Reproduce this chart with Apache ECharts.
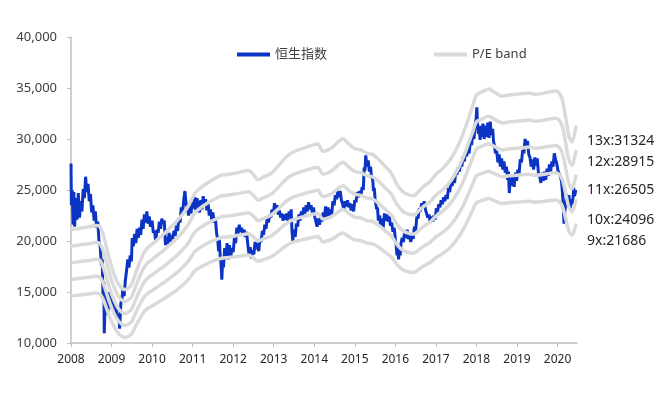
<!DOCTYPE html>
<html lang="zh">

<head>
    <meta charset="UTF-8">
    <title>恒生指数 P/E band</title>
    <style>
        html, body { margin: 0; padding: 0; background: #fff; }
    </style>
</head>

<body>
    <div id="main" style="width: 670px; height:399px"></div>
    <script src="https://cdn.jsdelivr.net/npm/echarts@6/dist/echarts.min.js"></script>
    <script type="text/javascript">
        // 年份刻度
        var yearTicks = [2008, 2009, 2010, 2011, 2012, 2013, 2014, 2015, 2016, 2017, 2018, 2019, 2020];

        // P/E 倍数 及 右侧标注
        var peMultiples = [9, 10, 11, 12, 13];
        var peLabels = ['13x:31324', '12x:28915', '11x:26505', '10x:24096', '9x:21686'];

        // 每股盈利 (从图中各条 band 读出), [年份, EPS]
        var epsPoints = [
            [2008.00, 1625], [2008.15, 1630], [2008.30, 1640], [2008.45, 1645], [2008.60, 1655],
            [2008.70, 1650], [2008.78, 1600], [2008.86, 1510], [2008.95, 1400], [2009.05, 1300],
            [2009.15, 1225], [2009.25, 1185], [2009.33, 1172], [2009.42, 1185], [2009.50, 1215],
            [2009.60, 1300], [2009.70, 1380], [2009.80, 1450], [2009.90, 1490], [2010.00, 1515],
            [2010.15, 1555], [2010.30, 1595], [2010.45, 1640], [2010.60, 1685], [2010.75, 1740],
            [2010.90, 1805], [2011.05, 1895], [2011.20, 1940], [2011.38, 1980], [2011.55, 2010],
            [2011.71, 2035], [2011.85, 2040], [2012.04, 2050], [2012.20, 2060], [2012.37, 2070],
            [2012.50, 2040], [2012.61, 2000], [2012.75, 2020], [2012.94, 2050], [2013.10, 2100],
            [2013.27, 2160], [2013.40, 2195], [2013.52, 2215], [2013.70, 2235], [2013.84, 2250],
            [2014.00, 2265], [2014.09, 2270], [2014.21, 2215], [2014.30, 2220], [2014.45, 2245],
            [2014.60, 2290], [2014.71, 2310], [2014.85, 2270], [2015.00, 2235], [2015.15, 2225],
            [2015.30, 2200], [2015.45, 2190], [2015.60, 2150], [2015.75, 2100], [2015.90, 2050],
            [2016.05, 1960], [2016.20, 1905], [2016.35, 1885], [2016.45, 1880], [2016.60, 1920],
            [2016.72, 1955], [2016.85, 1985], [2017.00, 2040], [2017.15, 2080], [2017.30, 2130],
            [2017.45, 2200], [2017.58, 2280], [2017.70, 2370], [2017.80, 2460], [2017.91, 2560],
            [2018.00, 2640], [2018.15, 2665], [2018.30, 2685], [2018.45, 2660], [2018.64, 2630],
            [2018.80, 2640], [2019.00, 2645], [2019.15, 2650], [2019.30, 2655], [2019.45, 2645],
            [2019.60, 2650], [2019.75, 2660], [2019.96, 2670], [2020.05, 2650], [2020.12, 2600],
            [2020.20, 2470], [2020.28, 2330], [2020.36, 2285], [2020.42, 2350], [2020.46, 2409.6]
        ];

        // 恒生指数 (日线较粗, 按图中上下沿读数), [年份, 点位]
        var hsiPoints = [
            [2008.00, 27600], [2008.01, 23500], [2008.03, 25000], [2008.05, 21600], [2008.07, 24800],
            [2008.09, 21400], [2008.12, 24200], [2008.15, 22100], [2008.18, 24700], [2008.21, 22300],
            [2008.24, 23900], [2008.27, 22900], [2008.30, 25100], [2008.33, 24200], [2008.36, 26300],
            [2008.39, 24800], [2008.42, 25600], [2008.45, 23900], [2008.48, 24600], [2008.51, 22800],
            [2008.54, 23500], [2008.57, 22000], [2008.60, 22900], [2008.63, 21300], [2008.66, 21900],
            [2008.69, 20000], [2008.72, 19500], [2008.75, 17600], [2008.77, 18200], [2008.79, 14500],
            [2008.81, 16000], [2008.82, 10950], [2008.84, 13800], [2008.86, 12800], [2008.88, 14900],
            [2008.91, 13100], [2008.94, 15000], [2008.97, 13400], [2009.00, 14800], [2009.03, 13300],
            [2009.06, 14200], [2009.09, 12700], [2009.12, 13500], [2009.15, 12400], [2009.18, 12800],
            [2009.20, 11400], [2009.23, 13900], [2009.26, 14400], [2009.28, 15300], [2009.31, 14600],
            [2009.34, 16100], [2009.37, 17100], [2009.40, 18200], [2009.43, 17400], [2009.46, 18600],
            [2009.49, 18000], [2009.51, 20300], [2009.54, 19500], [2009.57, 20700], [2009.60, 19800],
            [2009.63, 21200], [2009.66, 20300], [2009.69, 21300], [2009.72, 20600], [2009.75, 22100],
            [2009.78, 21200], [2009.81, 22600], [2009.84, 21800], [2009.87, 22900], [2009.90, 21700],
            [2009.93, 22400], [2009.96, 21400], [2010.00, 22000], [2010.03, 20800], [2010.06, 21000],
            [2010.09, 19900], [2010.12, 21100], [2010.15, 20800], [2010.18, 21900], [2010.21, 21200],
            [2010.24, 22200], [2010.27, 21700], [2010.30, 22000], [2010.33, 19600], [2010.36, 20400],
            [2010.39, 19700], [2010.42, 20800], [2010.45, 19900], [2010.48, 20600], [2010.51, 20200],
            [2010.54, 21000], [2010.57, 20500], [2010.60, 21500], [2010.63, 21000], [2010.66, 22300],
            [2010.69, 21800], [2010.72, 23300], [2010.75, 22600], [2010.78, 24000], [2010.81, 24900],
            [2010.84, 23600], [2010.87, 23300], [2010.90, 22500], [2010.93, 23400], [2010.96, 22700],
            [2010.99, 23800], [2011.02, 23200], [2011.05, 24300], [2011.08, 23000], [2011.11, 24200],
            [2011.14, 23300], [2011.17, 22800], [2011.20, 24000], [2011.23, 23100], [2011.26, 24400],
            [2011.29, 23500], [2011.32, 24100], [2011.35, 23000], [2011.38, 23700], [2011.41, 22500],
            [2011.44, 23100], [2011.47, 22100], [2011.50, 22800], [2011.53, 21800], [2011.56, 22300],
            [2011.59, 20800], [2011.62, 20100], [2011.64, 19000], [2011.66, 20200], [2011.68, 18500],
            [2011.70, 17800], [2011.72, 16200], [2011.74, 18000], [2011.76, 17400], [2011.79, 19300],
            [2011.82, 18300], [2011.85, 19800], [2011.88, 18200], [2011.91, 19600], [2011.94, 18400],
            [2011.97, 19300], [2012.00, 18900], [2012.03, 20300], [2012.06, 19800], [2012.09, 21300],
            [2012.12, 20700], [2012.15, 21600], [2012.18, 20900], [2012.21, 21300], [2012.24, 20500],
            [2012.27, 21100], [2012.30, 20400], [2012.33, 20900], [2012.36, 19700], [2012.39, 18700],
            [2012.42, 19400], [2012.45, 18300], [2012.48, 19100], [2012.51, 18700], [2012.54, 19900],
            [2012.57, 19200], [2012.60, 19800], [2012.63, 19000], [2012.66, 20200], [2012.69, 19900],
            [2012.72, 21000], [2012.75, 20600], [2012.78, 21600], [2012.81, 21200], [2012.84, 22300],
            [2012.87, 21800], [2012.90, 22600], [2012.93, 22300], [2012.96, 23100], [2012.99, 22600],
            [2013.02, 23700], [2013.05, 23200], [2013.08, 23500], [2013.11, 22600], [2013.14, 23000],
            [2013.17, 22300], [2013.20, 22700], [2013.23, 22000], [2013.26, 22600], [2013.29, 22100],
            [2013.32, 22700], [2013.35, 21900], [2013.38, 22900], [2013.41, 22400], [2013.43, 23100],
            [2013.45, 21000], [2013.47, 20000], [2013.50, 21100], [2013.53, 20400], [2013.56, 21700],
            [2013.59, 21400], [2013.62, 22600], [2013.65, 22000], [2013.68, 22900], [2013.71, 22300],
            [2013.74, 23300], [2013.77, 22700], [2013.80, 23500], [2013.83, 22900], [2013.86, 23800],
            [2013.89, 23100], [2013.92, 23500], [2013.95, 22800], [2013.98, 23300], [2014.01, 22400],
            [2014.04, 22500], [2014.07, 21400], [2014.10, 22200], [2014.13, 21600], [2014.16, 22500],
            [2014.19, 21900], [2014.22, 22800], [2014.25, 22300], [2014.28, 23400], [2014.31, 22400],
            [2014.34, 23300], [2014.37, 22200], [2014.40, 23100], [2014.43, 22600], [2014.46, 23900],
            [2014.49, 23500], [2014.52, 24500], [2014.55, 24100], [2014.58, 24900], [2014.61, 24300],
            [2014.64, 24900], [2014.67, 24000], [2014.70, 23600], [2014.73, 23100], [2014.76, 23900],
            [2014.79, 23400], [2014.82, 24000], [2014.85, 23300], [2014.88, 23700], [2014.91, 23000],
            [2014.94, 23600], [2014.97, 22900], [2015.00, 24000], [2015.03, 23800], [2015.06, 24800],
            [2015.09, 24300], [2015.12, 24900], [2015.15, 24400], [2015.18, 25300], [2015.21, 25000],
            [2015.23, 27200], [2015.25, 26900], [2015.27, 28400], [2015.30, 27300], [2015.33, 27900],
            [2015.36, 26800], [2015.39, 27300], [2015.41, 26300], [2015.44, 26100], [2015.46, 24900],
            [2015.48, 25200], [2015.50, 24100], [2015.52, 24200], [2015.54, 23100], [2015.56, 23300],
            [2015.58, 22000], [2015.61, 22500], [2015.64, 21400], [2015.67, 22200], [2015.70, 21300],
            [2015.73, 22700], [2015.76, 22000], [2015.79, 22600], [2015.82, 21900], [2015.85, 22400],
            [2015.88, 21500], [2015.91, 21800], [2015.94, 20900], [2015.97, 21300], [2016.00, 20200],
            [2016.02, 19600], [2016.04, 18600], [2016.06, 19200], [2016.08, 18200], [2016.10, 19300],
            [2016.12, 18600], [2016.14, 19800], [2016.17, 20300], [2016.20, 19900], [2016.23, 21000],
            [2016.26, 20300], [2016.29, 21100], [2016.32, 20200], [2016.35, 20500], [2016.38, 19900],
            [2016.41, 20600], [2016.44, 20200], [2016.47, 21400], [2016.50, 21000], [2016.53, 22400],
            [2016.56, 22200], [2016.59, 23200], [2016.62, 22900], [2016.65, 23700], [2016.68, 23300],
            [2016.71, 23900], [2016.74, 23100], [2016.77, 23000], [2016.80, 22300], [2016.83, 22600],
            [2016.86, 21800], [2016.89, 22400], [2016.92, 21900], [2016.95, 22500], [2016.98, 22100],
            [2017.01, 23200], [2017.04, 22900], [2017.07, 23600], [2017.10, 23300], [2017.13, 24000],
            [2017.16, 23600], [2017.19, 24300], [2017.22, 23900], [2017.25, 24500], [2017.28, 24100],
            [2017.31, 25200], [2017.34, 24800], [2017.37, 25700], [2017.40, 25400], [2017.43, 26000],
            [2017.46, 25700], [2017.49, 26800], [2017.52, 26500], [2017.55, 27200], [2017.58, 26800],
            [2017.61, 27700], [2017.64, 27300], [2017.67, 28300], [2017.70, 27800], [2017.73, 28700],
            [2017.76, 28300], [2017.79, 29100], [2017.82, 28600], [2017.85, 29800], [2017.88, 29400],
            [2017.91, 30400], [2017.94, 30000], [2017.97, 31500], [2017.99, 31900], [2018.01, 33100],
            [2018.03, 31300], [2018.05, 30500], [2018.07, 31200], [2018.09, 29900], [2018.11, 31300],
            [2018.13, 30200], [2018.16, 31500], [2018.19, 30000], [2018.22, 31300], [2018.25, 30200],
            [2018.28, 31600], [2018.31, 30100], [2018.34, 31700], [2018.37, 30400], [2018.40, 31000],
            [2018.42, 29800], [2018.44, 29400], [2018.47, 28600], [2018.50, 28800], [2018.53, 27700],
            [2018.56, 28500], [2018.59, 27300], [2018.62, 28100], [2018.65, 27000], [2018.68, 27800],
            [2018.71, 26700], [2018.74, 27300], [2018.77, 26000], [2018.79, 26800], [2018.81, 24700],
            [2018.84, 26400], [2018.87, 25400], [2018.90, 26500], [2018.93, 25300], [2018.96, 26700],
            [2018.99, 25900], [2019.02, 27000], [2019.05, 26500], [2019.08, 28000], [2019.11, 27700],
            [2019.14, 28900], [2019.17, 28600], [2019.20, 30000], [2019.23, 29400], [2019.26, 29800],
            [2019.29, 28500], [2019.32, 28200], [2019.35, 27300], [2019.38, 28000], [2019.41, 27000],
            [2019.44, 28200], [2019.47, 27400], [2019.50, 28100], [2019.53, 26600], [2019.56, 26300],
            [2019.59, 25700], [2019.62, 26700], [2019.65, 25900], [2019.68, 26800], [2019.71, 26000],
            [2019.74, 27100], [2019.77, 26400], [2019.80, 27500], [2019.83, 26800], [2019.86, 27800],
            [2019.89, 27300], [2019.92, 28600], [2019.95, 28000], [2019.98, 27600], [2020.01, 26900],
            [2020.04, 27000], [2020.07, 26300], [2020.10, 25800], [2020.12, 24800], [2020.14, 23500],
            [2020.16, 21700], [2020.18, 22900], [2020.20, 23500], [2020.22, 24600], [2020.25, 23600],
            [2020.28, 24500], [2020.31, 23200], [2020.34, 24100], [2020.37, 23600], [2020.40, 25200],
            [2020.42, 24400], [2020.45, 25000]
        ];

        var myChart = echarts.init(document.getElementById('main'));

        var fontFamily = '"Noto Sans", "Noto Sans CJK SC", sans-serif';

        var series = [{
            name: '恒生指数',
            type: 'line',
            data: hsiPoints,
            showSymbol: false,
            lineStyle: { color: '#0b34c4', width: 3 },
            itemStyle: { color: '#0b34c4' },
            z: 2
        }];

        // P/E band = 倍数 x EPS
        peMultiples.forEach(function (m) {
            series.push({
                name: 'P/E band',
                type: 'line',
                smooth: 0.3,
                showSymbol: false,
                data: epsPoints.map(function (p) { return [p[0], p[1] * m]; }),
                lineStyle: { color: '#dadada', width: 3.5 },
                itemStyle: { color: '#dadada' },
                z: 3
            });
        });

        var graphics = peLabels.map(function (txt, i) {
            var ys = [143, 164, 192, 222, 243];
            return {
                type: 'text',
                left: 587,
                top: ys[i] - 9,
                style: { text: txt, fill: '#262626', font: '14px ' + fontFamily }
            };
        });

        var option = {
            animation: false,
            grid: { left: 71, right: 93, top: 37, bottom: 56 },
            legend: {
                data: ['恒生指数', 'P/E band'],
                left: 237,
                top: 48,
                padding: 0,
                icon: 'rect',
                itemWidth: 33,
                itemHeight: 4,
                itemGap: 107,
                textStyle: { fontSize: 13, color: '#404040', fontFamily: fontFamily }
            },
            xAxis: {
                type: 'value',
                min: yearTicks[0],
                max: 2020.48,
                interval: 1,
                axisLine: { lineStyle: { color: '#bfbfbf', width: 1.5 } },
                axisTick: { show: true, length: 4, lineStyle: { color: '#bfbfbf' } },
                splitLine: { show: false },
                axisLabel: {
                    margin: 11,
                    color: '#262626',
                    fontSize: 12,
                    fontFamily: fontFamily,
                    showMaxLabel: false,
                    formatter: function (v) {
                        return yearTicks.indexOf(v) >= 0 ? String(v) : '';
                    }
                }
            },
            yAxis: {
                type: 'value',
                min: 10000,
                max: 40000,
                interval: 5000,
                axisLine: { show: true, lineStyle: { color: '#bfbfbf', width: 1.5 } },
                axisTick: { show: true, length: 4, lineStyle: { color: '#bfbfbf' } },
                splitLine: { show: false },
                axisLabel: {
                    margin: 14,
                    color: '#404040',
                    fontSize: 13,
                    fontFamily: fontFamily,
                    formatter: function (v) { return v.toLocaleString('en-US'); }
                }
            },
            graphic: graphics,
            series: series
        };
        myChart.setOption(option);

        window.onresize = function () {
            myChart.resize();
        };
    </script>

</body>

</html>
